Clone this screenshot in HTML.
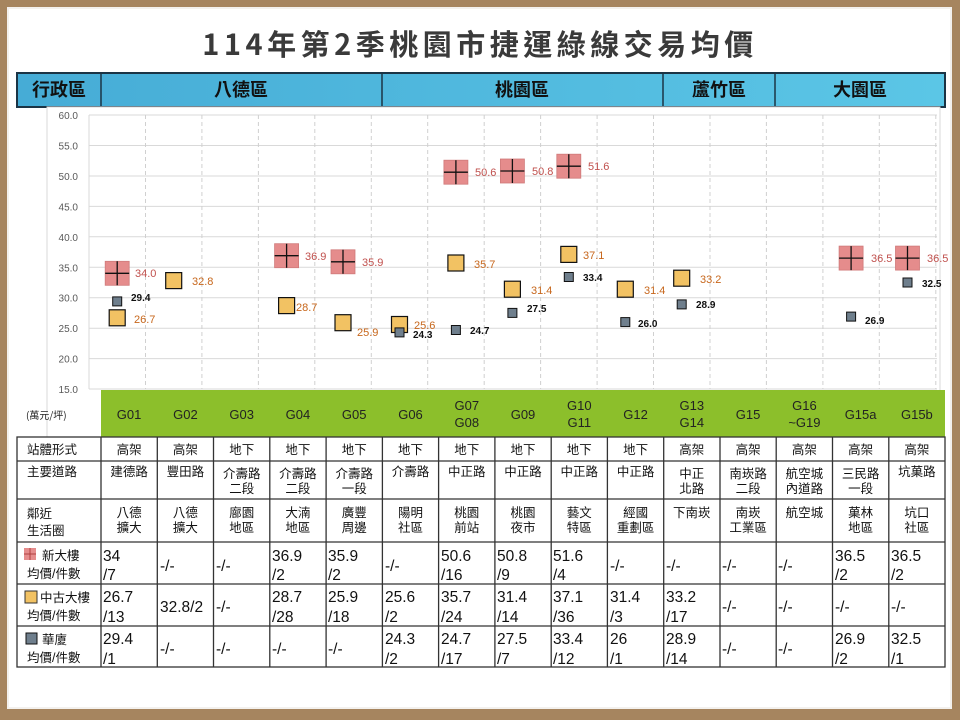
<!DOCTYPE html>
<html><head><meta charset="utf-8"><style>
html,body{margin:0;padding:0;width:960px;height:720px;overflow:hidden;background:#a6855f;}
svg{display:block}
text{font-family:"Liberation Sans","Noto Sans CJK TC",sans-serif;}
.t{font-family:"Noto Sans CJK TC","WenQuanYi Zen Hei",sans-serif;}
</style></head><body>
<svg width="960" height="720" viewBox="0 0 960 720" xmlns="http://www.w3.org/2000/svg">
<rect x="0" y="0" width="960" height="720" fill="#a6855f"/>
<rect x="7" y="7" width="945" height="702" fill="#f3f1ee"/>
<rect x="9" y="9" width="941" height="698" fill="#ffffff"/>
<text x="480" y="55" text-anchor="middle" font-size="29" font-weight="bold" fill="#3a3a3a" class="t" letter-spacing="4.5">114年第2季桃園市捷運綠線交易均價</text>
<defs><linearGradient id="hb" x1="0" x2="1"><stop offset="0" stop-color="#46acd6"/><stop offset="1" stop-color="#5bc6e6"/></linearGradient></defs>
<rect x="17" y="73" width="928" height="34" fill="url(#hb)" stroke="#1b3445" stroke-width="2"/>
<g stroke="#1b3445" stroke-width="1.5"><line x1="101" y1="73" x2="101" y2="107"/><line x1="382" y1="73" x2="382" y2="107"/><line x1="663" y1="73" x2="663" y2="107"/><line x1="775" y1="73" x2="775" y2="107"/></g>
<g font-size="18" font-weight="bold" fill="#111" text-anchor="middle" class="t">
<text x="59" y="96">行政區</text><text x="241" y="96">八德區</text><text x="522" y="96">桃園區</text><text x="719" y="96">蘆竹區</text><text x="860" y="96">大園區</text></g>
<rect x="47" y="107" width="893" height="330" fill="#fff" stroke="#d9d9d9"/>
<g stroke="#d9d9d9" stroke-width="1">
<line x1="89" y1="115" x2="937" y2="115"/><line x1="89" y1="145.5" x2="937" y2="145.5"/><line x1="89" y1="176" x2="937" y2="176"/><line x1="89" y1="206.4" x2="937" y2="206.4"/><line x1="89" y1="236.8" x2="937" y2="236.8"/><line x1="89" y1="267.3" x2="937" y2="267.3"/><line x1="89" y1="297.7" x2="937" y2="297.7"/><line x1="89" y1="328.2" x2="937" y2="328.2"/><line x1="89" y1="358.6" x2="937" y2="358.6"/><line x1="89" y1="389" x2="937" y2="389"/>
<line x1="89" y1="115" x2="89" y2="389"/>
</g>
<g stroke="#d0d0d0" stroke-dasharray="4,3">
<line x1="145.5" y1="115" x2="145.5" y2="389"/><line x1="201.9" y1="115" x2="201.9" y2="389"/><line x1="258.4" y1="115" x2="258.4" y2="389"/><line x1="314.8" y1="115" x2="314.8" y2="389"/><line x1="371.3" y1="115" x2="371.3" y2="389"/><line x1="427.7" y1="115" x2="427.7" y2="389"/><line x1="484.2" y1="115" x2="484.2" y2="389"/><line x1="540.6" y1="115" x2="540.6" y2="389"/><line x1="597.1" y1="115" x2="597.1" y2="389"/><line x1="653.5" y1="115" x2="653.5" y2="389"/><line x1="710" y1="115" x2="710" y2="389"/><line x1="766.4" y1="115" x2="766.4" y2="389"/><line x1="822.9" y1="115" x2="822.9" y2="389"/><line x1="879.3" y1="115" x2="879.3" y2="389"/><line x1="935.8" y1="115" x2="935.8" y2="389"/>
</g>
<g font-size="10" fill="#595959" text-anchor="end">
<text x="78" y="119">60.0</text><text x="78" y="149.5">55.0</text><text x="78" y="180">50.0</text><text x="78" y="210.4">45.0</text><text x="78" y="240.8">40.0</text><text x="78" y="271.3">35.0</text><text x="78" y="301.7">30.0</text><text x="78" y="332.2">25.0</text><text x="78" y="362.6">20.0</text><text x="78" y="393">15.0</text></g>
<g fill="#f2c263" stroke="#111" stroke-width="1.2">
<rect x="109.2" y="309.8" width="16" height="16"/><rect x="165.7" y="272.6" width="16" height="16"/><rect x="278.6" y="297.6" width="16" height="16"/><rect x="335" y="314.7" width="16" height="16"/><rect x="391.5" y="316.5" width="16" height="16"/><rect x="447.9" y="255" width="16" height="16"/><rect x="504.4" y="281.2" width="16" height="16"/><rect x="560.8" y="246.4" width="16" height="16"/><rect x="617.3" y="281.2" width="16" height="16"/><rect x="673.7" y="270.2" width="16" height="16"/></g>
<g fill="#6f7f8d" stroke="#111" stroke-width="1">
<rect x="112.7" y="296.9" width="9" height="9"/><rect x="395" y="327.9" width="9" height="9"/><rect x="451.4" y="325.5" width="9" height="9"/><rect x="507.9" y="308.4" width="9" height="9"/><rect x="564.3" y="272.5" width="9" height="9"/><rect x="620.8" y="317.6" width="9" height="9"/><rect x="677.2" y="299.9" width="9" height="9"/><rect x="846.6" y="312.1" width="9" height="9"/><rect x="903" y="278" width="9" height="9"/></g>
<g fill="#e58c8c" stroke="#d07a7a" stroke-width="0.8">
<rect x="105.2" y="261.3" width="24" height="24"/><rect x="274.6" y="243.7" width="24" height="24"/><rect x="331" y="249.8" width="24" height="24"/><rect x="443.9" y="160.2" width="24" height="24"/><rect x="500.4" y="159" width="24" height="24"/><rect x="556.8" y="154.2" width="24" height="24"/><rect x="839.1" y="246.1" width="24" height="24"/><rect x="895.5" y="246.1" width="24" height="24"/></g>
<g stroke="#111" stroke-width="1.3">
<path d="M117.2 261.3v24M105.2 273.3h24M286.6 243.7v24M274.6 255.7h24M343 249.8v24M331 261.8h24M455.9 160.2v24M443.9 172.2h24M512.4 159v24M500.4 171h24M568.8 154.2v24M556.8 166.2h24M851.1 246.1v24M839.1 258.1h24M907.5 246.1v24M895.5 258.1h24"/></g>
<g font-size="11" fill="#c0504d">
<text x="135" y="277">34.0</text><text x="305" y="260">36.9</text><text x="362" y="266">35.9</text><text x="475" y="176">50.6</text><text x="532" y="175">50.8</text><text x="588" y="170">51.6</text><text x="871" y="262">36.5</text><text x="927" y="262">36.5</text></g>
<g font-size="11" fill="#c7671c">
<text x="134" y="323">26.7</text><text x="192" y="285">32.8</text><text x="296" y="311">28.7</text><text x="357" y="336">25.9</text><text x="414" y="329">25.6</text><text x="474" y="268">35.7</text><text x="531" y="294">31.4</text><text x="583" y="259">37.1</text><text x="644" y="294">31.4</text><text x="700" y="283">33.2</text></g>
<g font-size="10" font-weight="bold" fill="#111">
<text x="131" y="301">29.4</text><text x="413" y="338">24.3</text><text x="470" y="334">24.7</text><text x="527" y="312">27.5</text><text x="583" y="281">33.4</text><text x="638" y="327">26.0</text><text x="696" y="308">28.9</text><text x="865" y="324">26.9</text><text x="922" y="287">32.5</text></g>
<rect x="101" y="390" width="844" height="47" fill="#8cbf2b"/>
<text x="26" y="419" font-size="10" fill="#222" class="t">(萬元/坪)</text>
<g font-size="13" fill="#222" text-anchor="middle">
<text x="129.1" y="419">G01</text><text x="185.4" y="419">G02</text><text x="241.7" y="419">G03</text><text x="297.9" y="419">G04</text><text x="354.2" y="419">G05</text><text x="410.5" y="419">G06</text><text x="466.8" y="410">G07</text><text x="466.8" y="427">G08</text><text x="523" y="419">G09</text><text x="579.3" y="410">G10</text><text x="579.3" y="427">G11</text><text x="635.6" y="419">G12</text><text x="691.8" y="410">G13</text><text x="691.8" y="427">G14</text><text x="748.1" y="419">G15</text><text x="804.4" y="410">G16</text><text x="804.4" y="427">~G19</text><text x="860.6" y="419">G15a</text><text x="916.9" y="419">G15b</text></g>
<g stroke="#333" stroke-width="1.3" fill="none">
<rect x="17" y="437" width="928" height="230"/>
<line x1="17" y1="461" x2="945" y2="461"/><line x1="17" y1="499" x2="945" y2="499"/><line x1="17" y1="542" x2="945" y2="542"/><line x1="17" y1="584" x2="945" y2="584"/><line x1="17" y1="626" x2="945" y2="626"/>
<line x1="101" y1="437" x2="101" y2="667"/><line x1="157.3" y1="437" x2="157.3" y2="667"/><line x1="213.5" y1="437" x2="213.5" y2="667"/><line x1="269.8" y1="437" x2="269.8" y2="667"/><line x1="326.1" y1="437" x2="326.1" y2="667"/><line x1="382.4" y1="437" x2="382.4" y2="667"/><line x1="438.6" y1="437" x2="438.6" y2="667"/><line x1="494.9" y1="437" x2="494.9" y2="667"/><line x1="551.2" y1="437" x2="551.2" y2="667"/><line x1="607.4" y1="437" x2="607.4" y2="667"/><line x1="663.7" y1="437" x2="663.7" y2="667"/><line x1="720" y1="437" x2="720" y2="667"/><line x1="776.2" y1="437" x2="776.2" y2="667"/><line x1="832.5" y1="437" x2="832.5" y2="667"/><line x1="888.8" y1="437" x2="888.8" y2="667"/>
</g>
<g font-size="12.5" fill="#111" class="t">
<text x="27" y="454">站體形式</text><text x="27" y="476">主要道路</text><text x="27" y="518">鄰近</text><text x="27" y="535">生活圈</text>
<text x="42" y="560">新大樓</text><text x="27" y="578">均價/件數</text>
<text x="40" y="602">中古大樓</text><text x="27" y="620">均價/件數</text>
<text x="42" y="644">華廈</text><text x="27" y="662">均價/件數</text></g>
<rect x="24" y="548" width="12" height="12" fill="#e58c8c"/><path d="M30 548v12M24 554h12" stroke="#b04040" stroke-width="1"/>
<rect x="25" y="591" width="12" height="12" fill="#f2c263" stroke="#333"/>
<rect x="26" y="633" width="11" height="11" fill="#6f7f8d" stroke="#111"/>
<g font-size="12.5" fill="#111" text-anchor="middle" class="t">
<text x="129.1" y="454">高架</text><text x="185.4" y="454">高架</text><text x="241.7" y="454">地下</text><text x="297.9" y="454">地下</text><text x="354.2" y="454">地下</text><text x="410.5" y="454">地下</text><text x="466.8" y="454">地下</text><text x="523" y="454">地下</text><text x="579.3" y="454">地下</text><text x="635.6" y="454">地下</text><text x="691.8" y="454">高架</text><text x="748.1" y="454">高架</text><text x="804.4" y="454">高架</text><text x="860.6" y="454">高架</text><text x="916.9" y="454">高架</text>
<text x="129.1" y="476">建德路</text><text x="185.4" y="476">豐田路</text><text x="241.7" y="478">介壽路</text><text x="241.7" y="493">二段</text><text x="297.9" y="478">介壽路</text><text x="297.9" y="493">二段</text><text x="354.2" y="478">介壽路</text><text x="354.2" y="493">一段</text><text x="410.5" y="476">介壽路</text><text x="466.8" y="476">中正路</text><text x="523" y="476">中正路</text><text x="579.3" y="476">中正路</text><text x="635.6" y="476">中正路</text><text x="691.8" y="478">中正</text><text x="691.8" y="493">北路</text><text x="748.1" y="478">南崁路</text><text x="748.1" y="493">二段</text><text x="804.4" y="478">航空城</text><text x="804.4" y="493">內道路</text><text x="860.6" y="478">三民路</text><text x="860.6" y="493">一段</text><text x="916.9" y="476">坑菓路</text>
<text x="129.1" y="517">八德</text><text x="129.1" y="532">擴大</text><text x="185.4" y="517">八德</text><text x="185.4" y="532">擴大</text><text x="241.7" y="517">廍園</text><text x="241.7" y="532">地區</text><text x="297.9" y="517">大湳</text><text x="297.9" y="532">地區</text><text x="354.2" y="517">廣豐</text><text x="354.2" y="532">周邊</text><text x="410.5" y="517">陽明</text><text x="410.5" y="532">社區</text><text x="466.8" y="517">桃園</text><text x="466.8" y="532">前站</text><text x="523" y="517">桃園</text><text x="523" y="532">夜市</text><text x="579.3" y="517">藝文</text><text x="579.3" y="532">特區</text><text x="635.6" y="517">經國</text><text x="635.6" y="532">重劃區</text><text x="691.8" y="517">下南崁</text><text x="748.1" y="517">南崁</text><text x="748.1" y="532">工業區</text><text x="804.4" y="517">航空城</text><text x="860.6" y="517">菓林</text><text x="860.6" y="532">地區</text><text x="916.9" y="517">坑口</text><text x="916.9" y="532">社區</text></g>
<g font-size="15.5" fill="#111">
<text x="103" y="561">34</text><text x="103" y="580">/7</text>
<text x="160" y="571">-/-</text><text x="216" y="571">-/-</text>
<text x="272" y="561">36.9</text><text x="272" y="580">/2</text>
<text x="328" y="561">35.9</text><text x="328" y="580">/2</text>
<text x="385" y="571">-/-</text>
<text x="441" y="561">50.6</text><text x="441" y="580">/16</text>
<text x="497" y="561">50.8</text><text x="497" y="580">/9</text>
<text x="553" y="561">51.6</text><text x="553" y="580">/4</text>
<text x="610" y="571">-/-</text><text x="666" y="571">-/-</text><text x="722" y="571">-/-</text><text x="778" y="571">-/-</text>
<text x="835" y="561">36.5</text><text x="835" y="580">/2</text>
<text x="891" y="561">36.5</text><text x="891" y="580">/2</text>
<text x="103" y="602">26.7</text><text x="103" y="622">/13</text>
<text x="160" y="612">32.8/2</text><text x="216" y="612">-/-</text>
<text x="272" y="602">28.7</text><text x="272" y="622">/28</text>
<text x="328" y="602">25.9</text><text x="328" y="622">/18</text>
<text x="385" y="602">25.6</text><text x="385" y="622">/2</text>
<text x="441" y="602">35.7</text><text x="441" y="622">/24</text>
<text x="497" y="602">31.4</text><text x="497" y="622">/14</text>
<text x="553" y="602">37.1</text><text x="553" y="622">/36</text>
<text x="610" y="602">31.4</text><text x="610" y="622">/3</text>
<text x="666" y="602">33.2</text><text x="666" y="622">/17</text>
<text x="722" y="612">-/-</text><text x="778" y="612">-/-</text><text x="835" y="612">-/-</text><text x="891" y="612">-/-</text>
<text x="103" y="644">29.4</text><text x="103" y="664">/1</text>
<text x="160" y="654">-/-</text><text x="216" y="654">-/-</text><text x="272" y="654">-/-</text><text x="328" y="654">-/-</text>
<text x="385" y="644">24.3</text><text x="385" y="664">/2</text>
<text x="441" y="644">24.7</text><text x="441" y="664">/17</text>
<text x="497" y="644">27.5</text><text x="497" y="664">/7</text>
<text x="553" y="644">33.4</text><text x="553" y="664">/12</text>
<text x="610" y="644">26</text><text x="610" y="664">/1</text>
<text x="666" y="644">28.9</text><text x="666" y="664">/14</text>
<text x="722" y="654">-/-</text><text x="778" y="654">-/-</text>
<text x="835" y="644">26.9</text><text x="835" y="664">/2</text>
<text x="891" y="644">32.5</text><text x="891" y="664">/1</text>
</g>
</svg>
</body></html>
